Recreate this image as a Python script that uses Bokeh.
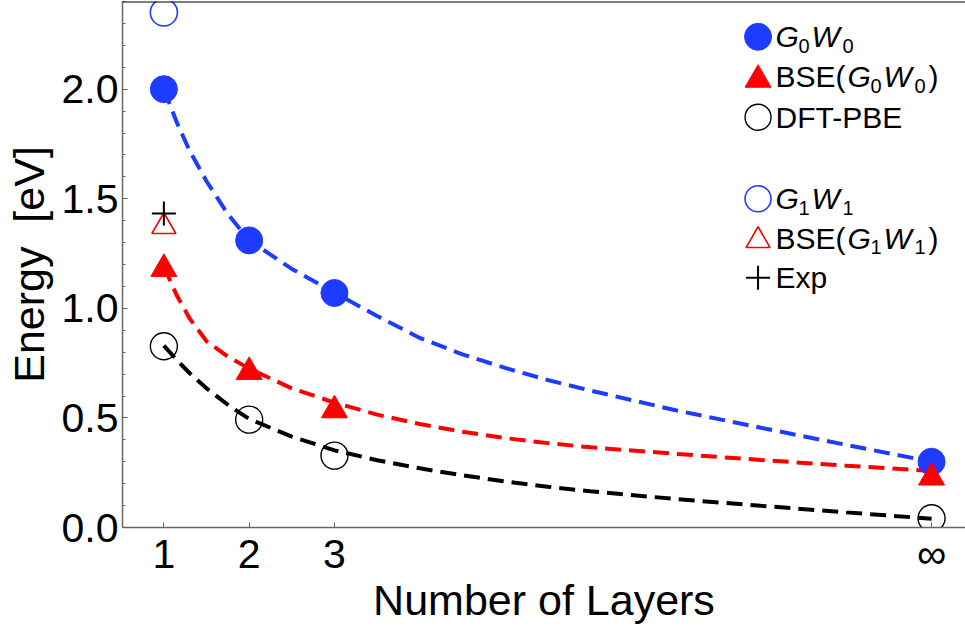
from bokeh.plotting import figure
from bokeh.models import Range1d, FixedTicker, Label, Span, PrintfTickFormatter
from bokeh.embed import file_html
from bokeh.resources import INLINE

# ---- data (x = 10 stands for the bulk, labelled with the infinity sign) ----
layers = [1, 2, 3, 10]
x_tick_labels = ["1", "2", "3", "\u221e"]
g0w0 = [2.00, 1.31, 1.07, 0.30]
bse_g0w0 = [1.18, 0.71, 0.535, 0.228]
dft_pbe = [0.827, 0.492, 0.328, 0.042]
single_x = [1]
g1w1 = [2.35]
bse_g1w1 = [1.373]
exp_val = [1.433]

fit_x = [1, 1.15, 1.3, 1.5, 1.75, 2, 2.5, 3, 3.5, 4, 4.5, 5, 5.5, 6, 7, 8, 9, 10]
fit_g0w0 = [2.0, 1.85, 1.72, 1.58, 1.43, 1.31, 1.18, 1.072, 0.965, 0.865, 0.79, 0.728, 0.673, 0.625,
            0.535, 0.455, 0.377, 0.30]
fit_bse = [1.19, 1.06, 0.955, 0.85, 0.78, 0.725, 0.635, 0.57, 0.515, 0.472, 0.437, 0.408, 0.385, 0.366,
           0.336, 0.308, 0.282, 0.258]
fit_dft = [0.83, 0.765, 0.705, 0.635, 0.56, 0.495, 0.415, 0.352, 0.307, 0.27, 0.238, 0.21, 0.186, 0.165,
           0.13, 0.099, 0.069, 0.04]

y_ticks = [0.0, 0.5, 1.0, 1.5, 2.0]
y_minor = [round(0.1 * i, 1) for i in range(25)]

BLUE = "#1e3cff"
RED = "#ff0000"
FONT = "Liberation Sans"

p = figure(width=965, height=634, x_range=Range1d(0.515, 10.398), y_range=Range1d(0, 2.4),
           output_backend="svg", toolbar_location=None,
           min_border_left=122, min_border_right=0, min_border_top=1, min_border_bottom=107)
p.outline_line_color = None
p.grid.visible = False
p.background_fill_color = "white"
p.border_fill_color = "white"

# axes
p.xaxis.ticker = FixedTicker(ticks=layers, minor_ticks=[])
p.xaxis.major_label_overrides = {t: l for t, l in zip(layers, x_tick_labels)}
p.yaxis.ticker = FixedTicker(ticks=y_ticks, minor_ticks=y_minor)
p.yaxis.formatter = PrintfTickFormatter(format="%.1f")
for ax in (p.xaxis, p.yaxis):
    ax.axis_line_color = "#666666"
    ax.axis_line_width = 1.5
    ax.major_tick_line_color = "#666666"
    ax.minor_tick_line_color = "#666666"
    ax.major_tick_in = 5
    ax.major_tick_out = 0
    ax.minor_tick_in = 3
    ax.minor_tick_out = 0
    ax.major_label_text_font = FONT
    ax.major_label_text_font_size = "41px"
    ax.major_label_text_color = "black"
    ax.axis_label_text_font = FONT
    ax.axis_label_text_font_size = "43px"
    ax.axis_label_text_font_style = "normal"
    ax.axis_label_text_color = "black"
p.xaxis.axis_label = "Number of Layers"
p.yaxis.axis_label = "Energy\u00a0 [eV]"
p.xaxis.major_label_standoff = 3
p.yaxis.major_label_standoff = 4
p.xaxis.axis_label_standoff = -4
p.yaxis.axis_label_standoff = 6

p.add_layout(Span(location=2.4, dimension="width", line_color="black", line_width=2))

# fitted dashed curves
p.line(fit_x, fit_g0w0, line_color=BLUE, line_width=4, line_dash="16 8")
p.line(fit_x, fit_bse, line_color=RED, line_width=4, line_dash="16 8")
p.line(fit_x, fit_dft, line_color="black", line_width=4, line_dash="16 8")

# data markers
p.scatter(layers, g0w0, marker="circle", size=27, fill_color=BLUE, line_color=BLUE)
p.scatter(layers, bse_g0w0, marker="triangle", size=26, fill_color=RED, line_color=RED)
p.scatter(layers, dft_pbe, marker="circle", size=27, fill_color=None, line_color="black", line_width=1.4)
p.scatter(single_x, g1w1, marker="circle", size=27, fill_color=None, line_color=BLUE, line_width=1.6)
p.scatter(single_x, bse_g1w1, marker="triangle", size=24, fill_color=None, line_color=RED, line_width=1.6)
p.scatter(single_x, exp_val, marker="cross", size=24, line_color="black", line_width=2)

# ---- legend ----
leg_marker_x = 7.966
leg_text_x = 8.171
leg_marker_y = [2.239, 2.043, 1.872, 1.500, 1.309, 1.140]
leg_base_y = [2.189, 2.006, 1.822, 1.450, 1.270, 1.090]

p.scatter([leg_marker_x], [leg_marker_y[0]], marker="circle", size=27, fill_color=BLUE, line_color=BLUE)
p.scatter([leg_marker_x], [leg_marker_y[1]], marker="triangle", size=26, fill_color=RED, line_color=RED)
p.scatter([leg_marker_x], [leg_marker_y[2]], marker="circle", size=26, fill_color=None, line_color="black", line_width=1.4)
p.scatter([leg_marker_x], [leg_marker_y[3]], marker="circle", size=26, fill_color=None, line_color=BLUE, line_width=1.6)
p.scatter([leg_marker_x], [leg_marker_y[4]], marker="triangle", size=24, fill_color=None, line_color=RED, line_width=1.6)
p.scatter([leg_marker_x], [leg_marker_y[5]], marker="cross", size=24, line_color="black", line_width=2)


def piece(text, row, dx, sub=False, italic=False):
    p.add_layout(Label(x=leg_text_x, y=leg_base_y[row], text=text, x_offset=dx,
                       y_offset=2 if sub else 11,
                       text_font=FONT, text_font_size="20px" if sub else "30px",
                       text_font_style="italic" if italic else "normal",
                       text_baseline="alphabetic", text_align="left", text_color="black"))


for row, n in ((0, "0"), (3, "1")):
    piece("G", row, 0, italic=True)
    piece(n, row, 23, sub=True)
    piece("W", row, 36, italic=True)
    piece(n, row, 67, sub=True)
for row, n in ((1, "0"), (4, "1")):
    piece("BSE(", row, 0)
    piece("G", row, 72, italic=True)
    piece(n, row, 95, sub=True)
    piece("W", row, 108, italic=True)
    piece(n, row, 139, sub=True)
    piece(")", row, 153)
piece("DFT-PBE", 2, 0)
piece("Exp", 5, 0)

open("out.html", "w").write(file_html(p, INLINE))
